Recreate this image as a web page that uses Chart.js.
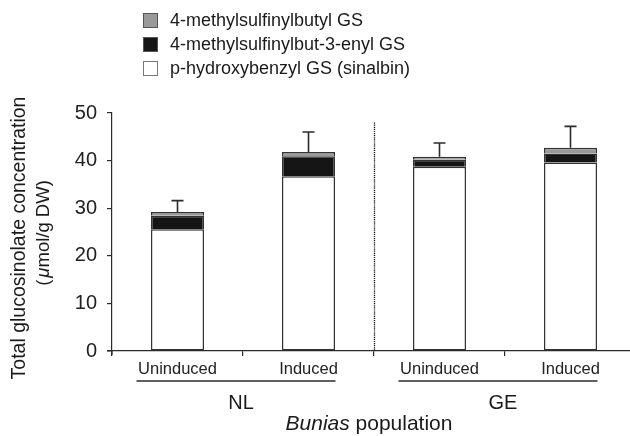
<!DOCTYPE html>
<html>
<head>
<meta charset="utf-8">
<script src="https://cdn.jsdelivr.net/npm/chart.js@4.4.1/dist/chart.umd.min.js"></script>
<style>
  html, body { margin:0; padding:0; background:#fff; overflow:hidden; }
  #wrap { width:630px; height:436px; overflow:hidden; }
</style>
</head>
<body>
<div id="wrap"><canvas id="c" width="640" height="436"></canvas></div>
<script>
// values (µmol/g DW)
const categories = ["Uninduced", "Induced", "Uninduced", "Induced"];
const populations = ["NL", "GE"];
const sinalbin = [25.6, 36.7, 38.7, 39.6];   // p-hydroxybenzyl GS
const butenyl  = [2.8, 4.2, 1.5, 1.9];       // 4-methylsulfinylbut-3-enyl GS
const butyl    = [0.8, 0.9, 0.6, 1.2];       // 4-methylsulfinylbutyl GS
const errUp    = [2.4, 4.2, 2.9, 4.5];       // error bar above total
const yTicks   = [0, 10, 20, 30, 40, 50];

const FONT = '"Liberation Sans", Arial, Helvetica, sans-serif';
const INK = "#2b2b2b";

const totals = sinalbin.map((v, i) => v + butenyl[i] + butyl[i]);
const topBorder = { top: 1.5, left: 1.5, right: 1.5, bottom: 0 };

const extras = {
  id: "extras",
  afterDraw(chart){
    const { ctx, scales:{ x, y }, chartArea:a } = chart;
    ctx.save();
    ctx.strokeStyle = INK;
    ctx.fillStyle = "#1a1a1a";

    // small axis overhangs at origin
    ctx.lineWidth = 1.2;
    ctx.beginPath();
    ctx.moveTo(a.left - 5, a.bottom); ctx.lineTo(a.left, a.bottom);
    ctx.moveTo(a.left, a.bottom); ctx.lineTo(a.left, a.bottom + 4);
    ctx.stroke();

    // error bars (upper only)
    ctx.lineWidth = 1.6;
    totals.forEach((t, i) => {
      const px = x.getPixelForValue(i);
      const y0 = y.getPixelForValue(t);
      const y1 = y.getPixelForValue(t + errUp[i]);
      ctx.beginPath();
      ctx.moveTo(px, y0); ctx.lineTo(px, y1);
      ctx.moveTo(px - 6, y1); ctx.lineTo(px + 6, y1);
      ctx.stroke();
    });

    // dotted divider between populations
    const xd = Math.round((x.getPixelForValue(1) + x.getPixelForValue(2)) / 2) + 0.5;
    ctx.lineWidth = 1.3;
    ctx.strokeStyle = "#111";
    ctx.setLineDash([1.2, 0.9]);
    ctx.beginPath();
    ctx.moveTo(xd, y.getPixelForValue(48)); ctx.lineTo(xd, a.bottom);
    ctx.stroke();
    ctx.setLineDash([]);
    ctx.strokeStyle = INK;

    // population underlines and labels
    ctx.lineWidth = 1.3;
    populations.forEach((p, g) => {
      const x0 = x.getPixelForValue(g * 2) - 41;
      const x1 = x.getPixelForValue(g * 2 + 1) + 27;
      ctx.beginPath();
      ctx.moveTo(x0, 381); ctx.lineTo(x1, 381);
      ctx.stroke();
      ctx.font = "20px " + FONT;
      ctx.textAlign = "center";
      ctx.textBaseline = "middle";
      ctx.fillText(p, (x0 + x1) / 2 + 5, 403);
    });

    // x title: italic genus + plain word
    ctx.textAlign = "left";
    ctx.textBaseline = "middle";
    ctx.font = "italic 21px " + FONT;
    const w1 = ctx.measureText("Bunias").width;
    ctx.font = "21px " + FONT;
    const w2 = ctx.measureText(" population").width;
    let sx = 369 - (w1 + w2) / 2;
    ctx.font = "italic 21px " + FONT;
    ctx.fillText("Bunias", sx, 424);
    ctx.font = "21px " + FONT;
    ctx.fillText(" population", sx + w1, 424);

    // y title, two rotated lines
    ctx.save();
    ctx.translate(20, 238);
    ctx.rotate(-Math.PI / 2);
    ctx.font = "19.5px " + FONT;
    ctx.textAlign = "center";
    ctx.fillText("Total glucosinolate concentration", 0, 0);
    ctx.restore();

    ctx.save();
    ctx.translate(44, 233);
    ctx.rotate(-Math.PI / 2);
    const parts = [["(", false], ["\u03bc", true], ["mol/g DW)", false]];
    const widths = parts.map(([s, it]) => { ctx.font = (it ? "italic " : "") + "18.5px " + FONT; return ctx.measureText(s).width; });
    let px = -(widths.reduce((s, v) => s + v, 0) + 2) / 2;
    ctx.textAlign = "left";
    parts.forEach(([s, it], i) => {
      ctx.font = (it ? "italic " : "") + "18.5px " + FONT;
      ctx.fillText(s, px, 0);
      px += widths[i] + (i === 0 ? 2 : 0);
    });
    ctx.restore();

    // legend (top to bottom = top of stack to bottom)
    const items = chart.data.datasets.slice().reverse();
    ctx.font = "18px " + FONT;
    ctx.textAlign = "left";
    items.forEach((ds, k) => {
      const cy = 20.5 + k * 24;
      ctx.fillStyle = ds.backgroundColor;
      ctx.fillRect(143.5, cy - 7, 14, 14);
      ctx.lineWidth = 1;
      ctx.strokeStyle = ds.backgroundColor === "#ffffff" ? "#777" : "#555";
      ctx.strokeRect(143.5, cy - 7, 14, 14);
      ctx.fillStyle = "#1a1a1a";
      ctx.fillText(ds.label, 170, cy + 1);
    });

    ctx.restore();
  }
};

new Chart(document.getElementById("c"), {
  type: "bar",
  data: {
    labels: categories,
    datasets: [
      { label: "p-hydroxybenzyl GS (sinalbin)", data: sinalbin, backgroundColor: "#ffffff", borderWidth: 1.5 },
      { label: "4-methylsulfinylbut-3-enyl GS", data: butenyl, backgroundColor: "#151515", borderWidth: topBorder },
      { label: "4-methylsulfinylbutyl GS", data: butyl, backgroundColor: "#999999", borderWidth: topBorder }
    ]
  },
  options: {
    responsive: false,
    animation: false,
    devicePixelRatio: 1,
    layout: { padding: { top: 113, right: 4, left: 0, bottom: 0 } },
    datasets: {
      bar: {
        categoryPercentage: 1,
        barPercentage: 0.405,
        borderColor: "#333",
        borderSkipped: false
      }
    },
    plugins: { legend: { display: false }, tooltip: { enabled: false } },
    scales: {
      x: {
        stacked: true,
        grid: { display: true, offset: true, drawOnChartArea: false, tickLength: 5, color: INK, lineWidth: 1.2 },
        border: { display: true, color: INK, width: 1.2 },
        ticks: { color: "#222", padding: 4, font: { family: FONT, size: 16.5 } },
        afterFit: s => { s.height = 85; }
      },
      y: {
        stacked: true,
        min: 0,
        max: 50,
        afterBuildTicks: s => { s.ticks = yTicks.map(v => ({ value: v })); },
        grid: { display: true, drawOnChartArea: false, tickLength: 5, color: INK, lineWidth: 1.2 },
        border: { display: true, color: INK, width: 1.2 },
        ticks: { color: "#222", padding: 10, font: { family: FONT, size: 20 } },
        afterFit: s => { s.width = 112; }
      }
    }
  },
  plugins: [extras]
});
</script>
</body>
</html>
